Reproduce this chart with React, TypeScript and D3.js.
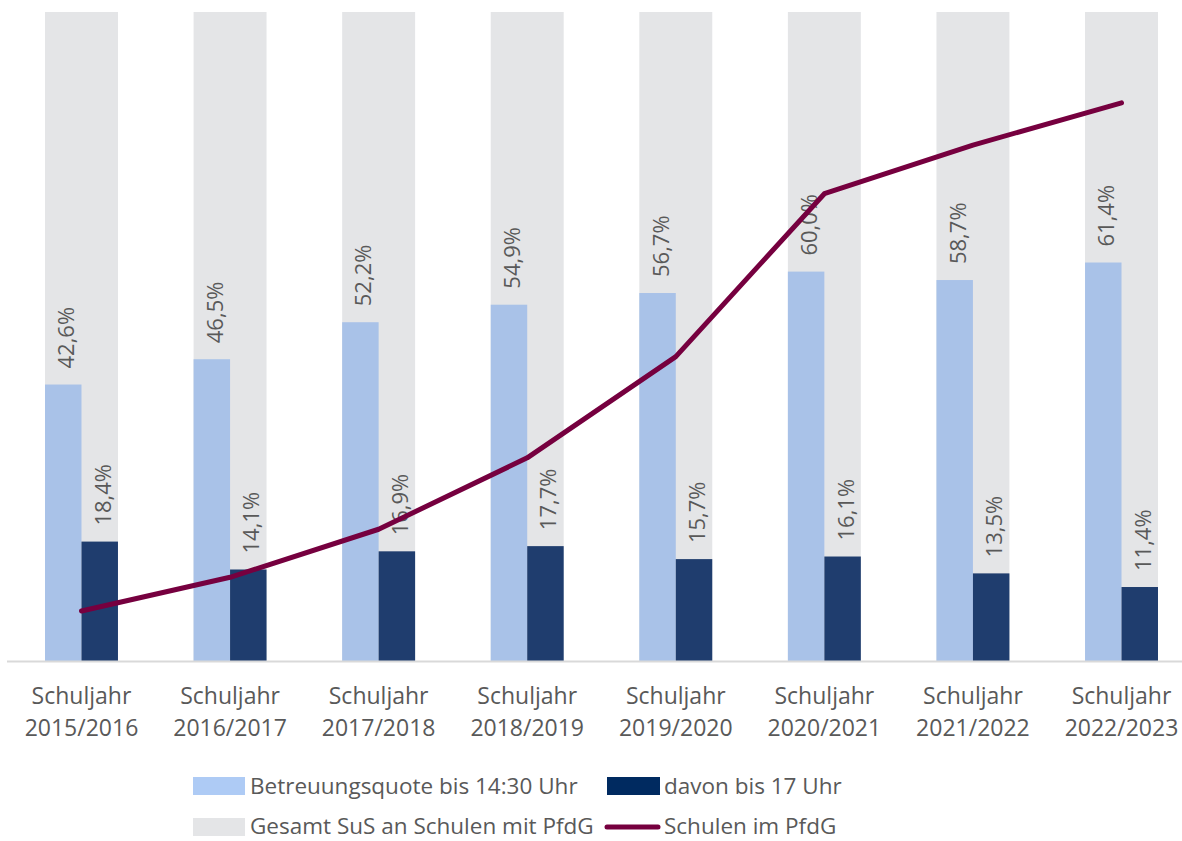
import React from "react";
import * as d3 from "d3";

const categories = [
  "Schuljahr 2015/2016",
  "Schuljahr 2016/2017",
  "Schuljahr 2017/2018",
  "Schuljahr 2018/2019",
  "Schuljahr 2019/2020",
  "Schuljahr 2020/2021",
  "Schuljahr 2021/2022",
  "Schuljahr 2022/2023",
];
const betreuung = [42.6, 46.5, 52.2, 54.9, 56.7, 60.0, 58.7, 61.4];
const bis17 = [18.4, 14.1, 16.9, 17.7, 15.7, 16.1, 13.5, 11.4];
const gesamt = [100, 100, 100, 100, 100, 100, 100, 100];
// Schulen im PfdG (secondary axis, relative index)
const schulen = [7.7, 12.9, 20.3, 31.3, 46.9, 72.0, 79.5, 86.0];

const legendLabels = [
  "Betreuungsquote bis 14:30 Uhr",
  "davon bis 17 Uhr",
  "Gesamt SuS an Schulen mit PfdG",
  "Schulen im PfdG",
];

const W = 1182;
const H = 841;
const FONT = "'Open Sans', 'Noto Sans', sans-serif";
const TXT = "#595959";
const C_GREY = "#E4E5E7";
const C_LIGHT = "#A9C2E8";
const C_DARK = "#1F3D6E";
const C_LINE = "#76003F";

export default function App() {
  const x = d3
    .scaleBand<string>()
    .domain(categories)
    .range([7.2, 1195.8])
    .paddingInner(0.509)
    .paddingOuter(0.2545);
  const y = d3.scaleLinear().domain([0, 100]).range([661, 12]);
  const y2 = d3.scaleLinear().domain([0, 100]).range([661, 12]);
  const bw = x.bandwidth();
  const half = bw / 2;

  const linePath = d3
    .line<number>()
    .x((_, i) => (x(categories[i]) as number) + half)
    .y((d) => y2(d))(schulen);

  return (
    <svg
      width={W}
      height={H}
      style={{ position: "absolute", left: 0, top: 0, fontFamily: FONT }}
    >
      <rect width={W} height={H} fill="#fff" />
      {categories.map((c, i) => {
        const x0 = x(c) as number;
        return (
          <g key={c}>
            <rect x={x0} y={y(gesamt[i])} width={bw} height={y(0) - y(gesamt[i])} fill={C_GREY} />
            <rect x={x0} y={y(betreuung[i])} width={half} height={y(0) - y(betreuung[i])} fill={C_LIGHT} />
            <rect x={x0 + half} y={y(bis17[i])} width={half} height={y(0) - y(bis17[i])} fill={C_DARK} />
            <text
              transform={`translate(${x0 + half / 2 + 2},${y(betreuung[i]) - 16}) rotate(-90)`}
              fontSize={22}
              fill={TXT}
              dominantBaseline="central"
            >
              {betreuung[i].toFixed(1).replace(".", ",")}%
            </text>
            <text
              transform={`translate(${x0 + half * 1.5 + 2},${y(bis17[i]) - 16}) rotate(-90)`}
              fontSize={22}
              fill={TXT}
              dominantBaseline="central"
            >
              {bis17[i].toFixed(1).replace(".", ",")}%
            </text>
            <text x={x0 + half} y={704} fontSize={23} fill={TXT} textAnchor="middle">
              {c.split(" ")[0]}
            </text>
            <text x={x0 + half} y={736} fontSize={23} fill={TXT} textAnchor="middle">
              {c.split(" ")[1]}
            </text>
          </g>
        );
      })}
      <line x1={7} x2={W} y1={661.5} y2={661.5} stroke="#D9D9D9" strokeWidth={2} />
      <path d={linePath || ""} fill="none" stroke={C_LINE} strokeWidth={5} strokeLinecap="round" strokeLinejoin="round" />

      {/* legend */}
      <g fontSize={22.5} fill={TXT}>
        <rect x={193} y={777} width={52} height={18} fill="#AECBF5" />
        <text x={250} y={785} dominantBaseline="central">{legendLabels[0]}</text>
        <rect x={607} y={777} width={53} height={18} fill="#002A60" />
        <text x={664} y={785} dominantBaseline="central">{legendLabels[1]}</text>
        <rect x={193} y={818} width={52} height={18} fill={C_GREY} />
        <text x={250} y={825} dominantBaseline="central">{legendLabels[2]}</text>
        <line x1={607} x2={658} y1={827} y2={827} stroke={C_LINE} strokeWidth={5} strokeLinecap="round" />
        <text x={664} y={825} dominantBaseline="central">{legendLabels[3]}</text>
      </g>
    </svg>
  );
}
